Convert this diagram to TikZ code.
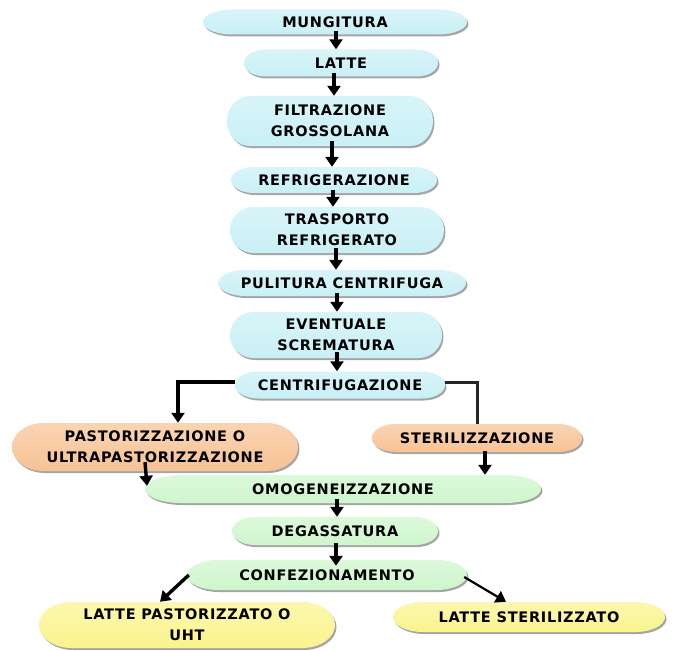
\documentclass[tikz,border=0pt]{standalone}
\usepackage{fontspec}
\setmainfont{DejaVu Sans}
\newfontfamily\boxfont[LetterSpace=5]{DejaVu Sans Bold}
\usetikzlibrary{shadows,arrows.meta,calc}
\definecolor{cyanbox}{RGB}{200,240,246}
\definecolor{orangebox}{RGB}{247,194,148}
\definecolor{greenbox}{RGB}{206,246,204}
\definecolor{yellowbox}{RGB}{250,244,140}
\tikzset{
  pillshade/.style={draw=none, drop shadow={shadow xshift=1.5pt, shadow yshift=-2pt, opacity=0.5, fill=black!70}},
  txt/.style={inner sep=0pt, align=center, font=\boxfont\fontsize{14.5}{21}\selectfont, text=black},
  arr/.style={line width=3.4pt, -{Triangle[length=10pt,width=13pt]}},
  conn/.style={line width=3pt, draw=black!85},
}
% #1 name, #2 cx, #3 cy (from top), #4 width, #5 height, #6 colour, #7 text
\newcommand\pill[7]{%
  \pgfmathsetmacro\pillL{#2-#4/2}%
  \pgfmathsetmacro\pillR{#2+#4/2}%
  \pgfmathsetmacro\pillT{-#3+#5/2}%
  \pgfmathsetmacro\pillB{-#3-#5/2}%
  \pgfmathsetmacro\pillRx{min(0.11*#4,36)}%
  \pgfmathsetmacro\pillRy{#5/2}%
  \path[pillshade, top color=#6!70!white, bottom color=#6]
    (\pillL+\pillRx,\pillT) -- (\pillR-\pillRx,\pillT)
    arc[start angle=90, end angle=-90, x radius=\pillRx pt, y radius=\pillRy pt]
    -- (\pillL+\pillRx,\pillB)
    arc[start angle=270, end angle=90, x radius=\pillRx pt, y radius=\pillRy pt]
    -- cycle;
  \node[txt, minimum width=#4pt, minimum height=#5pt] (#1) at (#2,-#3) {#7};
}
\begin{document}
\begin{tikzpicture}[x=1pt,y=1pt]
\useasboundingbox (0,0) rectangle (695,-650);
\pill{mung}{335}{22}{264}{25}{cyanbox}{MUNGITURA}
\pill{latte}{341}{63}{194}{27}{cyanbox}{LATTE}
\pill{filt}{330}{121}{206}{50}{cyanbox}{FILTRAZIONE\\GROSSOLANA}
\pill{refr}{334}{180}{206}{26}{cyanbox}{REFRIGERAZIONE}
\pill{trasp}{337}{230}{214}{46}{cyanbox}{TRASPORTO\\REFRIGERATO}
\pill{pulit}{342}{283}{248}{26}{cyanbox}{PULITURA CENTRIFUGA}
\pill{event}{336}{335}{212}{46}{cyanbox}{EVENTUALE\\SCREMATURA}
\pill{centr}{340}{385}{210}{27}{cyanbox}{CENTRIFUGAZIONE}
\pill{past}{155}{447}{286}{48}{orangebox}{PASTORIZZAZIONE O\\ULTRAPASTORIZZAZIONE}
\pill{ster}{477}{438}{210}{28}{orangebox}{STERILIZZAZIONE}
\pill{omog}{343}{489}{396}{28}{greenbox}{OMOGENEIZZAZIONE}
\pill{degas}{335}{531}{206}{28}{greenbox}{DEGASSATURA}
\pill{conf}{327}{575}{280}{30}{greenbox}{CONFEZIONAMENTO}
\pill{lpast}{187}{625}{296}{46}{yellowbox}{LATTE PASTORIZZATO O\\UHT}
\pill{lster}{529}{617}{272}{30}{yellowbox}{LATTE STERILIZZATO}

\coordinate (cl) at (178,-382);
\coordinate (cr) at (477,-382);

\draw[arr] ([xshift=1pt,yshift=4pt]mung.south) -- ([xshift=1pt]mung.south |- latte.north);
\draw[arr] ([xshift=-7pt,yshift=4pt]latte.south) -- ([xshift=-7pt]latte.south |- filt.north);
\draw[arr] ([xshift=2pt,yshift=5pt]filt.south) -- ([xshift=2pt]filt.south |- refr.north);
\draw[arr] ([xshift=-1pt,yshift=3pt]refr.south) -- ([xshift=-1pt]refr.south |- trasp.north);
\draw[arr] ([xshift=-1pt,yshift=5pt]trasp.south) -- ([xshift=-1pt]trasp.south |- pulit.north);
\draw[arr] ([xshift=-5pt,yshift=3pt]pulit.south) -- ([xshift=-5pt]pulit.south |- event.north);
\draw[arr] ([xshift=1pt,yshift=6pt]event.south) -- ([xshift=1pt]event.south |- centr.north);
\draw[arr] (centr.west |- cl) -- (cl) -- (cl |- past.north);
\draw[conn, line join=miter] (centr.east |- cr) -- (cr) -- (cr |- ster.north);
\draw[arr] ([yshift=9pt]past.south -| 145,0) -- ([yshift=-11pt]omog.north -| 147,0);
\draw[arr] ([yshift=1pt]ster.south -| 485,0) -- (omog.north -| 485,0);
\draw[arr] ([xshift=-6pt,yshift=4pt]omog.south) -- ([xshift=-6pt]omog.south |- degas.north);
\draw[arr] ([xshift=1pt,yshift=2pt]degas.south) -- ([xshift=1pt,yshift=-6pt]degas.south |- conf.north);
\draw[arr] ([xshift=2pt]conf.west) -- (lpast.north -| 160,0);
\draw[arr, line width=2.2pt] ([xshift=-3pt,yshift=-2pt]conf.east) -- (lster.north -| 506,0);
\end{tikzpicture}
\end{document}
